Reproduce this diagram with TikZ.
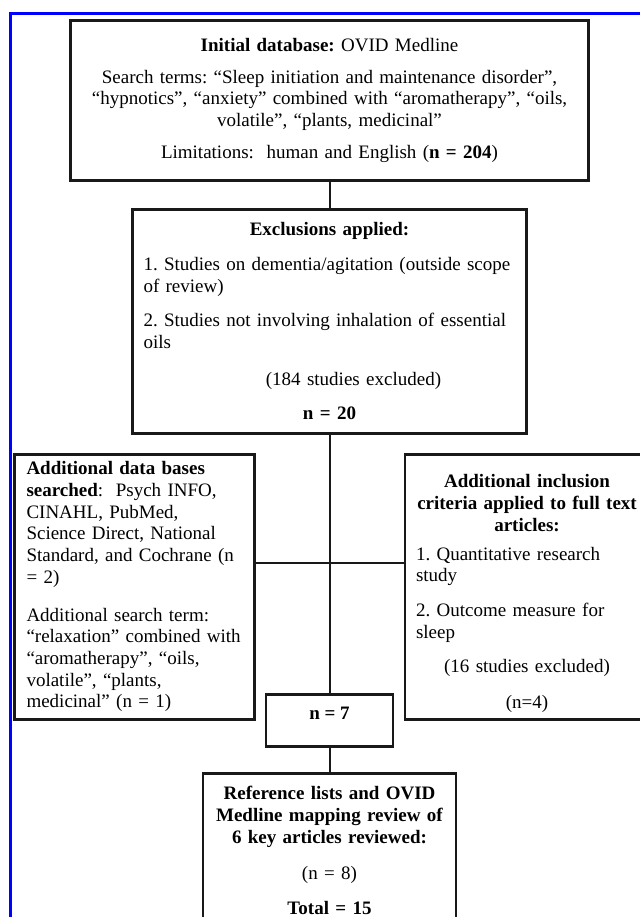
\documentclass[tikz,border=0pt]{standalone}
\usepackage{fontspec}
\setmainfont{Liberation Serif}
\usepackage{tikz}
\usetikzlibrary{positioning}

\newcommand{\centred}[1]{\hfill#1\hfill\mbox{}}

\tikzset{
  box/.style={draw=black!90,line width=2.6pt,inner ysep=13pt,
    font=\fontsize{19}{21.7}\selectfont\frenchspacing},
  side/.style={box,anchor=north,align=left,inner ysep=4pt,minimum height=265pt},
  link/.style={draw=black!90,line width=2pt},
  frame/.style={draw=blue,line width=3pt}
}

\begin{document}
\begin{tikzpicture}[x=1pt,y=-1pt]

  \useasboundingbox (0,0) rectangle (639,917);
  \path [frame] (10.3,930) |- (650,13.5);

  \node [box,anchor=north,text width=498pt,inner xsep=10pt,align=center,minimum height=160pt]
    (ovid) at (329.5,19) {%
    \textbf{Initial database:} OVID Medline\\[10pt]
    Search terms: “Sleep initiation and maintenance disorder”,\\
    “hypnotics”, “anxiety” combined with “aromatherapy”, “oils,\\
    volatile”, “plants, medicinal”\\[10pt]
    Limitations:~ human and English (\textbf{n = 204})};

  \node [box,anchor=north,text width=372pt,inner xsep=11pt,align=left,minimum height=224pt]
    (excl) at (329.5,208) {%
    \centred{\textbf{Exclusions applied:}}\\[13pt]
    1. Studies on dementia/agitation (outside scope\\
    of review)\\[13pt]
    2. Studies not involving inhalation of essential\\
    oils\\[15pt]
    \centred{\hspace{48pt}(184 studies excluded)}\\[13pt]
    \centred{\textbf{n = 20}}};

  \node [side,text width=216pt,inner xsep=12pt]
    (adds) at (134.5,453) {%
    \textbf{Additional data bases}\\
    \textbf{searched}:~ Psych INFO,\\
    CINAHL, PubMed,\\
    Science Direct, National\\
    Standard, and Cochrane (n\\
    = 2)\\[16pt]
    Additional search term:\\
    “relaxation” combined with\\
    “aromatherapy”, “oils,\\
    volatile”, “plants,\\
    medicinal” (n = 1)};

  \node [side,text width=230pt,inner xsep=7pt]
    (incl) at (527,453) {%
    \centred{\rule{0pt}{27pt}\textbf{Additional inclusion}}\\
    \centred{\textbf{criteria applied to full text}}\\
    \centred{\textbf{articles:}}\\[7pt]
    \hspace*{4pt}1. Quantitative research\\
    \hspace*{4pt}study\\[13pt]
    \hspace*{4pt}2. Outcome measure for\\
    \hspace*{4pt}sleep\\[13pt]
    \centred{(16 studies excluded)}\\[14pt]
    \centred{(n=4)}};

  \node [box,anchor=north,minimum width=127pt,minimum height=52pt,text depth=14pt]
    (seven) at (329.5,693) {\textbf{n = 7}};

  \node [box,anchor=north,text width=229pt,inner xsep=12pt,align=center]
    (refs) at (329.5,772) {%
    \textbf{Reference lists and OVID}\\
    \textbf{Medline mapping review of}\\
    \textbf{6 key articles reviewed:}\\[15pt]
    (n = 8)\\[13pt]
    \textbf{Total = 15}};

  \coordinate (cross) at (329.5,563);

  \path [link]
    (ovid)  edge (excl)
    (excl)  edge (seven)
    (seven) edge (refs)
    (cross -| adds.east) edge (cross -| incl.west);

\end{tikzpicture}
\end{document}
